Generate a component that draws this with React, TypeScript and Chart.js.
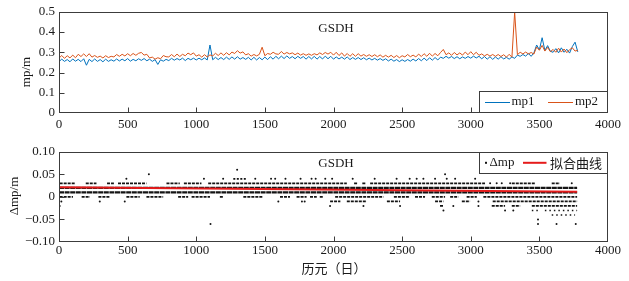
import React, { useEffect, useRef } from 'react';
import { Chart, registerables } from 'chart.js';

Chart.register(...registerables);

const SERIF = "'Liberation Serif', 'Times New Roman', serif";
const CJK = "'Noto Sans CJK SC', 'Liberation Serif', sans-serif";
const AXIS = '#3c3c3c';
const TEXT = '#1a1a1a';
const BLUE = '#0072BD';
const ORANGE = '#D95319';
const RED = '#e51b1b';
const DOT = '#141414';

// ---------- shared axis data ----------
const X_TICKS = [0, 500, 1000, 1500, 2000, 2500, 3000, 3500, 4000];
const Y1_TICKS = [0, 0.1, 0.2, 0.3, 0.4, 0.5];
const Y1_LABELS = ['0', '0.1', '0.2', '0.3', '0.4', '0.5'];
const Y2_TICKS = [-0.1, -0.05, 0, 0.05, 0.1];
const Y2_LABELS = ['\u22120.10', '\u22120.05', '0', '0.05', '0.10'];
const TITLE = 'GSDH';
const Y1_TITLE = 'mp/m';
const Y2_TITLE = '\u0394mp/m';
const X2_TITLE = '历元（日）';
const LEGEND1 = ['mp1', 'mp2'];
const LEGEND2 = ['\u0394mp', '拟合曲线'];

// ---------- top panel: mp1 / mp2 sampled every DAY_STEP days ----------
const DAY_STEP = 20;
const MP1 = [
  0.254, 0.266, 0.255, 0.264, 0.253, 0.267, 0.256, 0.265, 0.254, 0.268,
  0.236, 0.265, 0.254, 0.267, 0.255, 0.264, 0.253, 0.266, 0.255, 0.263,
  0.256, 0.267, 0.257, 0.266, 0.258, 0.269, 0.256, 0.265, 0.258, 0.268,
  0.260, 0.269, 0.258, 0.266, 0.255, 0.264, 0.240, 0.263, 0.256, 0.265,
  0.259, 0.270, 0.261, 0.269, 0.262, 0.271, 0.259, 0.270, 0.263, 0.271,
  0.262, 0.271, 0.263, 0.272, 0.262, 0.336, 0.263, 0.275, 0.264, 0.274,
  0.264, 0.276, 0.265, 0.277, 0.266, 0.278, 0.266, 0.274, 0.265, 0.275,
  0.262, 0.275, 0.262, 0.274, 0.263, 0.276, 0.264, 0.278, 0.266, 0.280,
  0.268, 0.281, 0.269, 0.282, 0.270, 0.279, 0.268, 0.280, 0.270, 0.279,
  0.266, 0.279, 0.267, 0.280, 0.266, 0.279, 0.267, 0.281, 0.268, 0.280,
  0.266, 0.277, 0.267, 0.276, 0.266, 0.277, 0.264, 0.274, 0.265, 0.274,
  0.264, 0.273, 0.263, 0.271, 0.262, 0.270, 0.261, 0.269, 0.260, 0.268,
  0.257, 0.266, 0.256, 0.264, 0.254, 0.263, 0.255, 0.264, 0.256, 0.266,
  0.257, 0.269, 0.258, 0.271, 0.259, 0.273, 0.261, 0.274, 0.262, 0.276,
  0.270, 0.280, 0.271, 0.279, 0.269, 0.278, 0.268, 0.277, 0.270, 0.279,
  0.271, 0.281, 0.272, 0.280, 0.268, 0.279, 0.266, 0.278, 0.265, 0.277,
  0.266, 0.278, 0.267, 0.275, 0.266, 0.277, 0.270, 0.286, 0.280, 0.289,
  0.281, 0.294, 0.280, 0.297, 0.336, 0.312, 0.372, 0.309, 0.333, 0.305,
  0.300, 0.318, 0.297, 0.322, 0.300, 0.315, 0.296, 0.328, 0.350, 0.302,
];
const MP2 = [
  0.271, 0.284, 0.270, 0.283, 0.272, 0.286, 0.273, 0.290, 0.279, 0.292,
  0.279, 0.293, 0.276, 0.284, 0.275, 0.281, 0.272, 0.283, 0.274, 0.280,
  0.277, 0.289, 0.280, 0.290, 0.282, 0.293, 0.283, 0.294, 0.285, 0.295,
  0.299, 0.286, 0.290, 0.272, 0.276, 0.266, 0.273, 0.268, 0.284, 0.278,
  0.277, 0.289, 0.278, 0.291, 0.279, 0.290, 0.283, 0.296, 0.288, 0.297,
  0.281, 0.288, 0.276, 0.288, 0.277, 0.287, 0.282, 0.295, 0.284, 0.297,
  0.285, 0.298, 0.287, 0.301, 0.294, 0.308, 0.296, 0.302, 0.287, 0.293,
  0.281, 0.289, 0.282, 0.290, 0.325, 0.283, 0.294, 0.290, 0.300, 0.292,
  0.290, 0.304, 0.291, 0.299, 0.292, 0.297, 0.288, 0.296, 0.286, 0.293,
  0.285, 0.292, 0.285, 0.293, 0.287, 0.297, 0.289, 0.299, 0.291, 0.300,
  0.286, 0.300, 0.284, 0.297, 0.281, 0.294, 0.280, 0.293, 0.280, 0.293,
  0.281, 0.289, 0.280, 0.288, 0.279, 0.288, 0.278, 0.287, 0.276, 0.285,
  0.276, 0.285, 0.274, 0.284, 0.273, 0.283, 0.277, 0.289, 0.278, 0.286,
  0.277, 0.291, 0.279, 0.293, 0.280, 0.295, 0.281, 0.294, 0.283, 0.299,
  0.314, 0.288, 0.297, 0.285, 0.299, 0.287, 0.297, 0.286, 0.301, 0.288,
  0.303, 0.288, 0.300, 0.285, 0.292, 0.282, 0.290, 0.281, 0.289, 0.280,
  0.289, 0.279, 0.288, 0.276, 0.290, 0.276, 0.498, 0.288, 0.300, 0.292,
  0.301, 0.292, 0.299, 0.291, 0.326, 0.310, 0.334, 0.306, 0.324, 0.303,
  0.314, 0.300, 0.320, 0.301, 0.316, 0.298, 0.313, 0.322, 0.306, 0.310,
];

// ---------- bottom panel: Δmp rows (day ranges where dots occur) ----------
const SEG_P04 = [[1270, 1370]];
const SEG_P03 = [[5, 115], [195, 273], [350, 400], [430, 637], [783, 880], [910, 1038], [1087, 2097], [2150, 2175], [2210, 2235], [2267, 3104], [3299, 3470], [3590, 3650]];
const SEG_P02 = [[0, 3775]];
const SEG_P01 = [[0, 3775]];
const SEG_000 = [[5, 102], [165, 226], [287, 370], [491, 588], [637, 759], [868, 941], [966, 1100], [1172, 1196], [1343, 1488], [1610, 1683], [1731, 1804], [1829, 1878], [1900, 1925], [2012, 2364], [2440, 2557], [2594, 2667], [2716, 2813], [2850, 2910], [2970, 3044], [3092, 3775]];
const SEG_M01 = [[1975, 2050], [2097, 2243], [2389, 2485], [2740, 2801], [2935, 2995], [3160, 3775]];
const SEG_M02 = [[2776, 2800], [3153, 3250], [3299, 3360], [3445, 3775]];
const SEG_M03 = [[3445, 3490], [3540, 3775]];
const SEG_M04 = [[3590, 3760]];

// isolated Δmp dots (days) per level
const PTS_P06 = [1298];
const PTS_P05 = [655, 2813];
const PTS_P04 = [491, 1056, 1196, 1430, 1545, 1575, 1650, 1760, 1840, 1870, 1940, 1990, 2140, 2300, 2460, 2555, 2606, 2655, 2740, 2825, 2886, 3032];
const PTS_P03 = [3141, 3189, 3226, 3287, 3736];
const PTS_M01 = [17, 297, 479, 1598, 1770, 1790, 3056];
const PTS_M02 = [5, 1975, 2218, 2485, 2873, 3056];
const PTS_M03 = [2801, 3250, 3310];
const PTS_M05 = [3490];
const PTS_M06 = [1104, 3490, 3625, 3765];

// fitted line
const FIT_X = [0, 3775];
const FIT_Y = [0.0212, 0.0112];

// ---------- helpers ----------
function rowData(segs: number[][], level: number) {
  const out: { x: number; y: number | null }[] = [];
  segs.forEach(([a, b], i) => {
    if (i > 0) out.push({ x: a, y: null });
    out.push({ x: a, y: level }, { x: b, y: level });
  });
  return out;
}

function drawFrame(chart: any) {
  const { ctx, chartArea: ca, scales } = chart;
  ctx.save();
  ctx.strokeStyle = AXIS;
  ctx.lineWidth = 1;
  const l = Math.round(ca.left) + 0.5;
  const r = Math.round(ca.right) - 0.5;
  const t = Math.round(ca.top) + 0.5;
  const b = Math.round(ca.bottom) - 0.5;
  ctx.strokeRect(l, t, r - l, b - t);
  ctx.beginPath();
  scales.x.ticks.forEach((tk: any) => {
    const px = Math.round(scales.x.getPixelForValue(tk.value)) + 0.5;
    if (px <= l + 1 || px >= r - 1) return;
    ctx.moveTo(px, b);
    ctx.lineTo(px, b - 5);
  });
  scales.y.ticks.forEach((tk: any) => {
    const py = Math.round(scales.y.getPixelForValue(tk.value)) + 0.5;
    if (py <= t + 1 || py >= b - 1) return;
    ctx.moveTo(l, py);
    ctx.lineTo(l + 5, py);
  });
  ctx.stroke();
  ctx.restore();
}

function drawText(ctx: CanvasRenderingContext2D, text: string, x: number, y: number, font: string, align: CanvasTextAlign = 'center', rot = 0) {
  ctx.save();
  ctx.fillStyle = TEXT;
  ctx.font = font;
  ctx.textAlign = align;
  ctx.textBaseline = 'middle';
  ctx.translate(x, y);
  if (rot) ctx.rotate(rot);
  ctx.fillText(text, 0, 0);
  ctx.restore();
}

function legendBox(ctx: CanvasRenderingContext2D, x: number, y: number, w: number, h: number) {
  ctx.save();
  ctx.fillStyle = '#ffffff';
  ctx.fillRect(x, y, w, h);
  ctx.strokeStyle = AXIS;
  ctx.lineWidth = 1;
  ctx.strokeRect(Math.round(x) + 0.5, Math.round(y) + 0.5, Math.round(w) - 1, Math.round(h) - 1);
  ctx.restore();
}

const topDecor = {
  id: 'topDecor',
  afterDraw(chart: any) {
    const { ctx, chartArea: ca } = chart;
    drawFrame(chart);
    drawText(ctx, TITLE, (ca.left + ca.right) / 2 + 2.5, ca.top + 16.5, `13px ${SERIF}`);
    drawText(ctx, Y1_TITLE, 27, 72, `13px ${SERIF}`, 'center', -Math.PI / 2);
    const w = 129, h = 22;
    const bx = ca.right - w, by = ca.bottom - h;
    legendBox(ctx, bx, by, w, h);
    const ds = chart.data.datasets;
    const cy = by + 10.5;
    const items = [
      { color: ds[1].borderColor, x0: bx + 6, x1: bx + 31, tx: bx + 32.5, label: LEGEND1[0] },
      { color: ds[0].borderColor, x0: bx + 69, x1: bx + 94, tx: bx + 96, label: LEGEND1[1] },
    ];
    items.forEach((it) => {
      ctx.save();
      ctx.strokeStyle = it.color;
      ctx.lineWidth = 1;
      ctx.beginPath();
      ctx.moveTo(it.x0, Math.round(cy) + 0.5);
      ctx.lineTo(it.x1, Math.round(cy) + 0.5);
      ctx.stroke();
      ctx.restore();
      drawText(ctx, it.label, it.tx, cy, `13px ${SERIF}`, 'left');
    });
  },
};

const bottomDecor = {
  id: 'bottomDecor',
  afterDraw(chart: any) {
    const { ctx, chartArea: ca } = chart;
    drawFrame(chart);
    drawText(ctx, TITLE, (ca.left + ca.right) / 2 + 2.5, ca.top + 12, `13px ${SERIF}`);
    drawText(ctx, Y2_TITLE, 15, 56, `13px ${SERIF}`, 'center', -Math.PI / 2);
    drawText(ctx, X2_TITLE, 334, 128.5, `13px ${CJK}`);
    const w = 129, h = 22;
    const bx = ca.right - w, by = ca.top;
    legendBox(ctx, bx, by, w, h);
    const cy = by + 11;
    ctx.save();
    ctx.fillStyle = DOT;
    ctx.fillRect(bx + 6, cy - 1, 2, 2);
    ctx.restore();
    drawText(ctx, LEGEND2[0], bx + 10.5, cy, `13px ${SERIF}`, 'left');
    ctx.save();
    ctx.strokeStyle = RED;
    ctx.lineWidth = 2;
    ctx.beginPath();
    ctx.moveTo(bx + 44, cy);
    ctx.lineTo(bx + 67.5, cy);
    ctx.stroke();
    ctx.restore();
    drawText(ctx, LEGEND2[1], bx + 71, cy, `13px ${CJK}`, 'left');
  },
};

function xScale(padding: number, height: number) {
  return {
    type: 'linear' as const,
    min: 0,
    max: 4000,
    afterBuildTicks: (s: any) => { s.ticks = X_TICKS.map((v) => ({ value: v })); },
    afterFit: (s: any) => { s.height = height; },
    grid: { display: false, drawTicks: false },
    border: { display: false },
    ticks: { padding, maxRotation: 0, autoSkip: false, color: TEXT, font: { family: SERIF, size: 13 }, callback: (v: any) => String(v) },
  };
}

function yScale(min: number, max: number, vals: number[], labels: string[]) {
  return {
    type: 'linear' as const,
    min,
    max,
    afterBuildTicks: (s: any) => { s.ticks = vals.map((v) => ({ value: v })); },
    afterFit: (s: any) => { s.width = 59; },
    grid: { display: false, drawTicks: false },
    border: { display: false },
    ticks: {
      padding: 4,
      color: TEXT,
      font: { family: SERIF, size: 13 },
      callback: (v: any) => {
        const i = vals.findIndex((t) => Math.abs(t - Number(v)) < 1e-9);
        return i >= 0 ? labels[i] : '';
      },
    },
  };
}

export default function App() {
  const topRef = useRef<HTMLCanvasElement | null>(null);
  const botRef = useRef<HTMLCanvasElement | null>(null);

  useEffect(() => {
    const mp1 = MP1.map((v, i) => ({ x: i * DAY_STEP, y: v }));
    const mp2 = MP2.map((v, i) => ({ x: i * DAY_STEP, y: v }));
    const top = new Chart(topRef.current as HTMLCanvasElement, {
      type: 'line',
      data: {
        datasets: [
          { label: LEGEND1[1], data: mp2, borderColor: ORANGE, borderWidth: 1, pointRadius: 0, tension: 0, order: 0 },
          { label: LEGEND1[0], data: mp1, borderColor: BLUE, borderWidth: 1, pointRadius: 0, tension: 0, order: 1 },
        ],
      },
      options: {
        animation: false,
        responsive: false,
        devicePixelRatio: 1,
        layout: { padding: { left: 0, top: 11, right: 21, bottom: 0 } },
        plugins: { legend: { display: false }, tooltip: { enabled: false }, title: { display: false } },
        scales: {
          x: xScale(4, 27),
          y: yScale(0, 0.5, Y1_TICKS, Y1_LABELS),
        },
      },
      plugins: [topDecor],
    });

    const rows: [number[][], number, number[], number][] = [
      [SEG_P04, 0.04, [2, 1.5], 1.6],
      [SEG_P03, 0.03, [3, 1], 1.8],
      [SEG_P02, 0.02, [5, 0.6], 2.2],
      [SEG_P01, 0.01, [5, 0.6], 2.2],
      [SEG_000, 0, [3, 1], 1.8],
      [SEG_M01, -0.01, [3, 1], 1.8],
      [SEG_M02, -0.02, [3, 1], 1.8],
      [SEG_M03, -0.03, [1.5, 3], 1.6],
      [SEG_M04, -0.04, [1.5, 3], 1.6],
    ];
    const ptGroups: [number[], number][] = [
      [PTS_P06, 0.06], [PTS_P05, 0.05], [PTS_P04, 0.04], [PTS_P03, 0.03],
      [PTS_M01, -0.01], [PTS_M02, -0.02], [PTS_M03, -0.03], [PTS_M05, -0.05], [PTS_M06, -0.06],
    ];
    const rowSets = rows.map(([segs, lvl, dash, width]) => ({
      label: LEGEND2[0],
      data: rowData(segs, lvl),
      borderColor: DOT,
      borderWidth: width,
      borderDash: dash,
      pointRadius: 0,
      spanGaps: false,
      order: 2,
    }));
    const ptData: { x: number; y: number }[] = [];
    ptGroups.forEach(([xs, lvl]) => xs.forEach((x) => ptData.push({ x, y: lvl })));
    ptData.sort((a, b) => a.x - b.x);

    const bot = new Chart(botRef.current as HTMLCanvasElement, {
      type: 'line',
      data: {
        datasets: [
          {
            label: LEGEND2[1],
            data: FIT_X.map((x, i) => ({ x, y: FIT_Y[i] })),
            borderColor: RED,
            borderWidth: 2,
            pointRadius: 0,
            order: 0,
          },
          ...rowSets,
          {
            label: LEGEND2[0],
            data: ptData,
            showLine: false,
            pointRadius: 1,
            pointBorderWidth: 0,
            pointBackgroundColor: DOT,
            borderColor: DOT,
            order: 1,
          },
        ] as any,
      },
      options: {
        animation: false,
        responsive: false,
        devicePixelRatio: 1,
        layout: { padding: { left: 0, top: 6, right: 21, bottom: 0 } },
        plugins: { legend: { display: false }, tooltip: { enabled: false }, title: { display: false } },
        scales: {
          x: xScale(1, 39),
          y: yScale(-0.1, 0.1, Y2_TICKS, Y2_LABELS),
        },
      },
      plugins: [bottomDecor],
    });

    return () => {
      top.destroy();
      bot.destroy();
    };
  }, []);

  return (
    <div style={{ position: 'absolute', left: 0, top: 0, width: 629, height: 281, background: '#fff' }}>
      <canvas ref={topRef} width={629} height={140} style={{ position: 'absolute', left: 0, top: 0, width: 629, height: 140 }} />
      <canvas ref={botRef} width={629} height={141} style={{ position: 'absolute', left: 0, top: 140, width: 629, height: 141 }} />
    </div>
  );
}
